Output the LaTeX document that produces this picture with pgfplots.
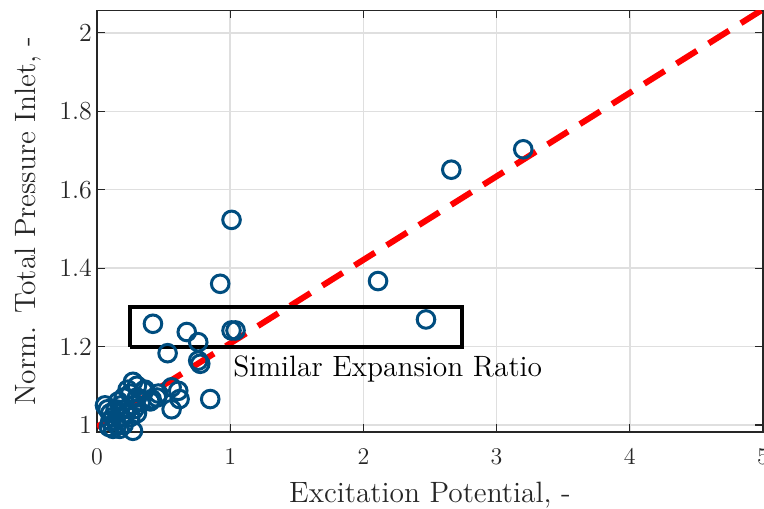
\documentclass[border=0pt]{standalone}
\usepackage{pgfplots}
\pgfplotsset{compat=1.18}
\definecolor{mblue}{RGB}{0,77,127}
\definecolor{axgray}{RGB}{38,38,38}
\definecolor{gridgray}{RGB}{223,223,223}
\begin{document}
\fontsize{13}{15}\selectfont
\begin{tikzpicture}
\begin{axis}[
  scale only axis,
  width=333pt, height=210.75pt,
  xmin=0, xmax=5, ymin=0.982, ymax=2.057,
  xtick={0,1,2,3,4,5},
  ytick={1,1.2,1.4,1.6,1.8,2},
  yticklabels={1,1.2,1.4,1.6,1.8,2},
  tick align=inside,
  major tick length=4pt,
  every tick/.style={axgray, line width=0.6pt},
  axis line style={axgray, line width=0.75pt},
  grid=major,
  major grid style={gridgray, line width=0.75pt},
  tick label style={font=\fontsize{13}{15}\selectfont, axgray},
  xticklabel style={yshift=-4pt},
  yticklabel style={xshift=2pt},
  label style={font=\fontsize{14.7}{17}\selectfont, axgray},
  xlabel={Excitation Potential, -},
  ylabel={Norm. Total Pressure Inlet, -},
  xlabel style={yshift=0pt},
  ylabel style={yshift=0pt},
  clip marker paths=false,
]
\addplot[only marks, mark=o, mark size=4.4pt, mark options={line width=1.5pt, draw=mblue}] coordinates {
(3.2,1.703) (2.66,1.651) (2.11,1.367) (2.47,1.269) (1.01,1.523) (0.925,1.36)
(1.01,1.241) (1.04,1.241) (0.42,1.258) (0.674,1.237) (0.76,1.211) (0.53,1.183)
(0.76,1.164) (0.775,1.156) (0.85,1.066) (0.56,1.096) (0.61,1.087) (0.62,1.066)
(0.56,1.04) (0.35,1.087) (0.41,1.066) (0.46,1.08) (0.40,1.06) (0.45,1.07)
(0.27,1.11) (0.30,1.10) (0.36,1.09) (0.23,1.09) (0.25,1.08) (0.20,1.07)
(0.30,1.07) (0.33,1.06) (0.18,1.05) (0.27,1.05) (0.14,1.04) (0.08,1.04)
(0.22,1.03) (0.30,1.03) (0.12,1.02) (0.18,1.02) (0.25,1.02) (0.10,1.01)
(0.15,1.00) (0.20,1.00) (0.12,0.99) (0.17,0.99) (0.09,0.995) (0.27,0.985)
(0.14,1.01) (0.21,1.04) (0.06,1.05) (0.10,1.03) (0.16,1.06) (0.28,1.04)
};
\addplot[red, line width=3pt, dash pattern=on 12pt off 7pt] coordinates {(0,0.995) (5,2.06)};
\addplot[black, line width=2pt] coordinates {(0.25,1.20) (2.74,1.20) (2.74,1.30) (0.25,1.30) (0.25,1.20)};
\node[anchor=west, inner sep=0pt, font=\fontsize{14.7}{17}\selectfont] at (axis cs:1.02,1.143) {Similar Expansion Ratio};
\end{axis}
\pgfresetboundingbox
\path (current axis.south west) ++(-48.5pt,-38pt) coordinate (bl);
\path (current axis.north east) ++(0.5pt,5.25pt) coordinate (tr);
\useasboundingbox (bl) rectangle (tr);
\end{tikzpicture}
\end{document}
